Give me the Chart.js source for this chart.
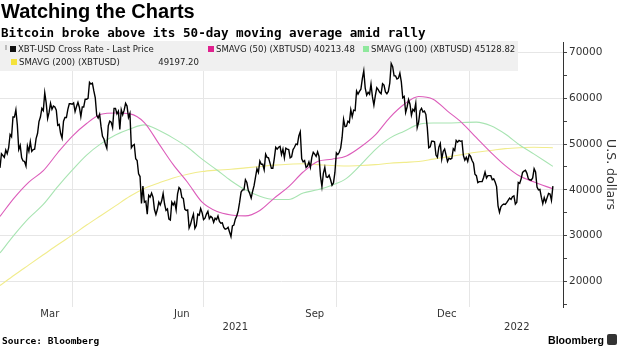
<!DOCTYPE html>
<html>
<head>
<meta charset="utf-8">
<script src="https://cdn.jsdelivr.net/npm/chart.js@4.4.1/dist/chart.umd.min.js"></script>
<style>
  html, body { margin: 0; padding: 0; background: #fff; }
  #wrap { position: relative; width: 620px; height: 348px; overflow: hidden; }
  #chart { position: absolute; left: 0; top: 0; }
  .txt { position: absolute; white-space: nowrap; color: #000; }
  #title { left: 1px; top: 0px; font: bold 20px "Liberation Sans", Arial, sans-serif; }
  #sub { left: 1px; top: 25px; font: bold 12.6px "DejaVu Sans Mono", monospace; }
  #legend { position: absolute; left: 0; top: 41px; width: 518px; height: 30px; }
  #legend .item { position: absolute; white-space: nowrap; font: 9.5px "DejaVu Sans Condensed", "DejaVu Sans", sans-serif; font-stretch: condensed; color: #222; line-height: 11px; }
  #legend .sw { position: absolute; width: 6px; height: 6px; }
  #source { left: 2px; top: 335px; font: bold 9.5px "DejaVu Sans Mono", monospace; }
  #brand { left: 548px; top: 334px; font: bold 10.6px "Liberation Sans", Arial, sans-serif; }
  #logo { position: absolute; left: 607px; top: 334px; width: 10px; height: 11px; background: #333; border-radius: 2px; }
</style>
</head>
<body>
<div id="wrap">
  <canvas id="chart" width="620" height="348"></canvas>
  <div class="txt" id="title">Watching the Charts</div>
  <div class="txt" id="sub">Bitcoin broke above its 50-day moving average amid rally</div>
  <div id="legend"></div>
  <div class="txt" id="source">Source: Bloomberg</div>
  <div class="txt" id="brand">Bloomberg</div>
  <div id="logo"></div>
</div>
<script>
// day 0 = 10 Feb 2021, one close per day, in thousands of USD
var price = [
  44.8,47.9,47.5,47.1,48.7,47.9,49.2,52.1,51.6,55.9,55.9,57.5,54.2,48.8,49.7,47.0,46.3,46.2,45.2,
  49.6,48.4,50.5,48.4,48.8,48.9,51.2,52.3,54.9,55.9,57.8,57.3,61.2,59.0,55.6,56.9,58.9,57.6,58.3,58.1,57.4,54.1,54.3,52.3,51.3,55.0,55.8,55.8,57.6,58.8,58.8,
  58.7,59.0,57.1,58.2,59.1,58.0,56.0,58.1,58.1,59.8,59.8,60.0,63.5,63.1,63.3,61.6,60.1,56.3,55.7,56.5,53.8,51.7,51.1,50.0,49.1,54.0,55.0,54.8,53.6,57.8,
  57.8,56.6,57.2,53.2,57.5,56.4,57.4,58.9,58.3,55.8,56.7,49.2,49.7,49.9,46.8,46.4,43.5,42.9,37.0,40.8,37.3,37.5,34.7,38.8,38.4,39.3,38.4,35.7,34.6,35.7,37.3,
  36.7,37.6,39.2,36.9,35.5,35.8,33.6,33.4,37.3,36.7,37.3,35.6,39.1,40.5,40.1,38.3,38.1,35.8,35.5,35.6,31.7,32.5,33.7,34.7,31.6,32.2,34.7,34.5,35.9,35.0,
  33.5,33.8,34.7,35.3,33.7,34.2,33.9,32.9,33.8,33.5,34.3,33.1,32.7,32.8,31.8,31.4,31.5,31.8,30.8,29.8,32.1,32.3,33.6,34.3,35.4,37.3,39.5,40.0,40.0,42.2,41.6,
  39.9,39.2,38.2,39.7,40.9,42.8,44.6,43.8,46.3,45.6,45.6,44.4,47.8,47.1,47.0,45.9,44.7,44.7,46.8,49.3,48.9,49.3,49.5,47.7,48.9,47.0,49.1,48.9,48.8,47.0,47.2,
  48.8,49.3,50.0,49.9,51.8,52.7,46.8,46.1,46.4,44.9,45.2,46.1,44.9,47.1,48.2,47.8,47.3,48.3,47.3,43.0,40.7,43.6,44.9,42.8,42.7,43.2,42.2,41.0,41.5,43.8,
  48.1,47.7,48.2,49.1,51.5,55.4,53.8,53.9,55.0,54.7,57.5,56.0,57.4,57.3,61.6,60.9,61.5,62.0,64.3,66.0,62.2,60.7,61.3,60.9,63.1,60.3,58.5,60.6,62.3,61.9,61.3,
  61.0,63.2,62.9,61.4,61.0,61.5,63.3,67.6,66.9,64.9,64.9,64.2,64.4,65.5,63.6,60.1,60.4,56.9,58.1,59.7,58.7,56.3,57.6,57.2,58.9,53.6,54.8,57.3,57.8,57.0,
  57.2,56.5,53.6,49.2,49.4,50.6,50.6,50.5,47.6,47.1,49.3,50.1,46.7,48.4,48.9,47.6,46.2,46.9,46.7,46.9,49.0,48.6,50.8,50.4,50.8,50.6,50.7,47.5,46.5,47.1,46.2,
  47.7,47.3,46.4,45.8,43.4,43.1,41.6,41.8,41.8,41.8,42.7,43.9,42.6,43.1,43.1,43.1,42.2,42.4,41.7,40.7,36.5,35.1,36.3,36.7,36.9,36.8,37.2,37.7,38.2,37.9,38.5,
  38.7,36.9,37.3,41.6,41.4,42.4,43.8,44.1,44.3,43.6,42.4,42.2,42.1,42.6,44.6,43.9,40.6,40.0,40.1,38.4,37.0,38.3,37.3,38.3,39.2,39.1,37.7,40.8
];

// moving averages read every 10 days
var maDays = [0,10,20,30,40,50,60,70,80,90,100,110,120,130,140,150,160,170,180,190,200,210,220,230,240,250,260,270,280,290,300,310,320,330,340,350,360,370,383];
var sma50 = [34200,38300,41700,44200,48100,51700,54500,56500,56800,56600,54700,50100,45500,41600,37300,35300,34500,34300,35500,38200,40700,43900,46200,46700,47400,49400,52000,55800,58700,60400,59800,57200,54650,51400,48200,45300,43000,41700,40213];
var sma100 = [26200,30200,33800,36800,40700,44300,47600,50100,52000,53300,54200,53000,51300,49300,46700,44400,42000,40000,38600,37900,37900,39300,40000,41000,42500,45500,48800,51300,52800,54300,54600,54600,54700,54800,54000,52200,49800,47800,45129];
var sma200 = [19100,21400,23600,25800,28000,30100,32300,34400,36500,38600,40300,41500,42600,43400,44000,44300,44500,44800,45100,45400,45600,45700,45500,45300,45200,45300,45500,45800,46000,46200,46700,47200,47700,48200,48600,49000,49200,49300,49197];

var seriesNames = ['XBT-USD Cross Rate - Last Price', 'SMAVG (50) (XBTUSD)', 'SMAVG (100) (XBTUSD)', 'SMAVG (200) (XBTUSD)'];
var lastValues = ['', '40213.48', '45128.82', '49197.20'];

var monthLabels = ['Mar', 'Jun', 'Sep', 'Dec'];
var monthDays = [34.5, 126, 218, 309.5];
var yearLabels = ['2021', '2022'];
var yearDays = [163, 358];
var gridDays = [50, 141, 233, 325];   // 1 Apr, 1 Jul, 1 Oct, 1 Jan
var yTicks = [15000,20000,25000,30000,35000,40000,45000,50000,55000,60000,65000,70000];

var lineColors = ['#000000', '#dc5cba', '#a8e4b2', '#f1ec8c'];
var swatchColors = ['#111111', '#e0218e', '#8fe89d', '#f4e23c'];

// legend text (html); its grey panel is painted on the canvas under the lines
var legend = document.getElementById('legend');
var legendPos = [[10, 2], [208, 2], [363, 2], [11, 15]];
seriesNames.forEach(function(name, i) {
  var sw = document.createElement('div');
  sw.className = 'sw';
  sw.style.left = legendPos[i][0] + 'px';
  sw.style.top = (legendPos[i][1] + 2.5) + 'px';
  sw.style.background = swatchColors[i];
  legend.appendChild(sw);
  var it = document.createElement('div');
  it.className = 'item';
  it.style.left = (legendPos[i][0] + 8) + 'px';
  it.style.top = legendPos[i][1] + 'px';
  it.textContent = (i === 3 || !lastValues[i]) ? name : name + ' ' + lastValues[i];
  legend.appendChild(it);
});
var v3 = document.createElement('div');
v3.className = 'item';
v3.style.left = '140px';
v3.style.width = '59px';
v3.style.textAlign = 'right';
v3.style.top = legendPos[3][1] + 'px';
v3.textContent = lastValues[3];
legend.appendChild(v3);
var mark = document.createElement('div');
mark.className = 'sw';
mark.style.left = '5px'; mark.style.top = '4px'; mark.style.width = '2px'; mark.style.height = '5px';
mark.style.background = '#bbb';
legend.appendChild(mark);

var legendPanel = {
  id: 'legendPanel',
  beforeDatasetsDraw: function(chart) {
    var ctx = chart.ctx;
    ctx.save();
    ctx.fillStyle = '#f0f0f0';
    ctx.fillRect(0, 41, 518, 30);
    ctx.restore();
  }
};

function pts(days, vals) {
  return vals.map(function(v, i) { return { x: days[i], y: v }; });
}

var priceData = price.map(function(v, i) { return { x: i, y: v * 1000 }; });

var fontFam = '"DejaVu Sans", sans-serif';

function fixTicks(list) {
  return function(scale) {
    scale.ticks = list.map(function(v) { return { value: v }; });
  };
}

new Chart(document.getElementById('chart').getContext('2d'), {
  type: 'line',
  data: {
    datasets: [
      { label: seriesNames[0], data: priceData, borderColor: lineColors[0], borderWidth: 1.4, tension: 0, order: 0 },
      { label: seriesNames[1], data: pts(maDays, sma50), borderColor: lineColors[1], borderWidth: 1.1, cubicInterpolationMode: 'monotone', order: 1 },
      { label: seriesNames[2], data: pts(maDays, sma100), borderColor: lineColors[2], borderWidth: 1.1, cubicInterpolationMode: 'monotone', order: 2 },
      { label: seriesNames[3], data: pts(maDays, sma200), borderColor: lineColors[3], borderWidth: 1.1, cubicInterpolationMode: 'monotone', order: 3 }
    ]
  },
  plugins: [legendPanel],
  options: {
    responsive: false,
    animation: false,
    events: [],
    elements: { point: { radius: 0 } },
    layout: { padding: { top: 42, bottom: 15, left: 0, right: 0 } },
    plugins: { legend: { display: false }, tooltip: { enabled: false } },
    scales: {
      x: {
        type: 'linear', position: 'bottom', min: 0, max: 390, weight: 0,
        grid: { color: '#e6e6e6', drawTicks: false },
        border: { display: false },
        ticks: { display: false },
        afterBuildTicks: fixTicks(gridDays),
        afterFit: function(s) { s.height = 0; }
      },
      xMonth: {
        type: 'linear', position: 'bottom', min: 0, max: 390, weight: 1,
        grid: { display: false, drawTicks: false },
        border: { display: false },
        ticks: {
          autoSkip: false, maxRotation: 0, padding: 1, color: '#333',
          font: { family: fontFam, size: 10 },
          callback: function(v, i) { return monthLabels[i]; }
        },
        afterBuildTicks: fixTicks(monthDays),
        afterFit: function(s) { s.height = 13; }
      },
      xYear: {
        type: 'linear', position: 'bottom', min: 0, max: 390, weight: 2,
        grid: { display: false, drawTicks: false },
        border: { display: false },
        ticks: {
          autoSkip: false, maxRotation: 0, padding: 1, color: '#333',
          font: { family: fontFam, size: 10 },
          callback: function(v, i) { return yearLabels[i]; }
        },
        afterBuildTicks: fixTicks(yearDays),
        afterFit: function(s) { s.height = 13; }
      },
      y: {
        position: 'right', min: 14400, max: 72300,
        grid: {
          color: function(c) { return c.tick && c.tick.value % 10000 === 0 ? '#e6e6e6' : 'rgba(0,0,0,0)'; },
          tickColor: '#444', tickLength: 4
        },
        border: { display: true, color: '#333', width: 1 },
        ticks: {
          autoSkip: false, padding: 2, color: '#333',
          font: { family: fontFam, size: 10.5 },
          callback: function(v) { return v % 10000 === 0 ? String(v) : ''; }
        },
        title: { display: true, text: 'U.S. dollars', color: '#333', font: { family: fontFam, size: 12.5 }, padding: { top: 2, bottom: 0 } },
        afterBuildTicks: fixTicks(yTicks),
        afterFit: function(s) { s.width = 57; }
      }
    }
  }
});
</script>
</body>
</html>
